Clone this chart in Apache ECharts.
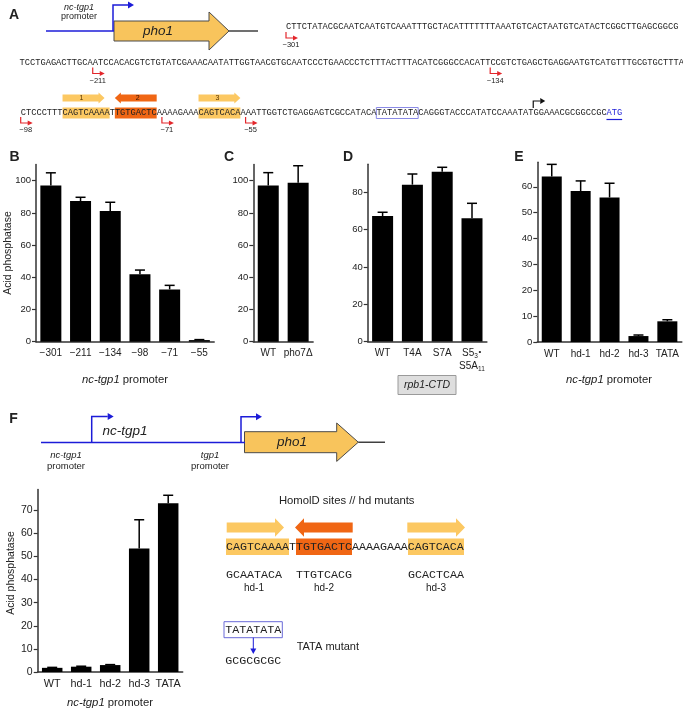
<!DOCTYPE html>
<html><head><meta charset="utf-8">
<script src="https://cdn.jsdelivr.net/npm/echarts@6.0.0/dist/echarts.min.js"></script>
<style>html,body{margin:0;padding:0;background:#fff}#c{width:683px;height:711px}</style>
</head><body><div id="c"></div>
<script>
// ---------------- data ----------------
const bCats = ['\u2212301', '\u2212211', '\u2212134', '\u221298', '\u221271', '\u221255'];
const bVals = [97.0, 87.4, 81.2, 41.9, 32.5, 1.0];
const bErr  = [7.9, 2.3, 5.4, 2.6, 2.5, 0.3];
const bTicks = [0, 20, 40, 60, 80, 100];

const cCats = ['WT', 'pho7\u0394'];
const cVals = [97.0, 98.8];
const cErr  = [8.0, 10.5];
const cTicks = [0, 20, 40, 60, 80, 100];

const dCats = ['WT', 'T4A', 'S7A', ''];
const dVals = [67.3, 84.1, 91.0, 66.1];
const dErr  = [2.0, 5.7, 2.4, 8.0];
const dTicks = [0, 20, 40, 60, 80];

const eCats = ['WT', 'hd-1', 'hd-2', 'hd-3', 'TATA'];
const eVals = [64.0, 58.4, 55.9, 2.3, 8.0];
const eErr  = [4.7, 3.9, 5.5, 0.4, 0.6];
const eTicks = [0, 10, 20, 30, 40, 50, 60];

const fCats = ['WT', 'hd-1', 'hd-2', 'hd-3', 'TATA'];
const fVals = [1.8, 2.3, 3.0, 53.5, 73.0];
const fErr  = [0.2, 0.2, 0.2, 12.4, 3.5];
const fTicks = [0, 10, 20, 30, 40, 50, 60, 70];

const seq1 = 'CTTCTATACGCAATCAATGTCAAATTTGCTACATTTTTTTAAATGTCACTAATGTCATACTCGGCTTGAGCGGCG';
const seq2 = 'TCCTGAGACTTGCAATCCACACGTCTGTATCGAAACAATATTGGTAACGTGCAATCCCTGAACCCTCTTTACTTTACATCGGGCCACATTCCGTCTGAGCTGAGGAATGTCATGTTTGCGTGCTTTA';
const seq3 = 'CTCCCTTTCAGTCAAAATTGTGACTCAAAAGAAACAGTCACAAAATTGGTCTGAGGAGTCGCCATACATATATATACAGGGTACCCATATCCAAATATGGAAACGCGGCCGC';
const seq3End = 'ATG';
const homolSeq = 'CAGTCAAAATTGTGACTCAAAAGAAACAGTCACA';
const mutSeqs = ['GCAATACA', 'TTGTCACG', 'GCACTCAA'];
const mutNames = ['hd-1', 'hd-2', 'hd-3'];

// ---------------- styles ----------------
const SANS = "'Liberation Sans', Arial, sans-serif";
const MONO = "'Liberation Mono', 'DejaVu Sans Mono', monospace";
const AX = '#333';
const BLUE = '#1c1cd8';
const RED = '#e3262b';
const LIGHT = '#fcc862';
const DARK = '#f06614';

const G = [];
function txt(x, y, text, font, opt) {
  opt = opt || {};
  G.push({type: 'text', x: x, y: y, rotation: opt.rot || 0, silent: true, z: 10,
    style: {text: text, font: font, fill: opt.fill || '#222', align: opt.align || 'center',
      verticalAlign: opt.va || 'middle', rich: opt.rich}});
}
function line(pts, color, w) {
  G.push({type: 'polyline', silent: true, z: 9, shape: {points: pts},
    style: {stroke: color, lineWidth: w || 1, fill: null}});
}
function poly(pts, fill, stroke, w) {
  G.push({type: 'polygon', silent: true, z: 8, shape: {points: pts},
    style: {fill: fill, stroke: stroke || null, lineWidth: w || 1}});
}
function rect(x, y, w, h, fill, stroke, lw) {
  G.push({type: 'rect', silent: true, z: 7, shape: {x: x, y: y, width: w, height: h},
    style: {fill: fill || null, stroke: stroke || null, lineWidth: lw || 1}});
}
function geneArrow(x0, xb, xt, c, bh, hh) {
  poly([[x0, c - bh], [xb, c - bh], [xb, c - hh], [xt, c], [xb, c + hh], [xb, c + bh], [x0, c + bh]],
    '#f8c45c', '#4a4a4a', 1);
}
function bentArrow(x, yb, yt, len, color, w, hl, hw) {
  line([[x, yb], [x, yt], [x + len, yt]], color, w);
  poly([[x + len, yt - hw], [x + len + hl, yt], [x + len, yt + hw]], color);
}
function blockArrow(xa, xb, c, bh, hh, hl, dir, fill) {
  if (dir > 0) poly([[xa, c - bh], [xb - hl, c - bh], [xb - hl, c - hh], [xb, c], [xb - hl, c + hh], [xb - hl, c + bh], [xa, c + bh]], fill);
  else poly([[xb, c - bh], [xa + hl, c - bh], [xa + hl, c - hh], [xa, c], [xa + hl, c + hh], [xa + hl, c + bh], [xb, c + bh]], fill);
}
function redMark(x, y0, label) {
  line([[x, y0], [x, y0 + 6], [x + 8, y0 + 6]], RED, 1.2);
  poly([[x + 7, y0 + 3.5], [x + 12, y0 + 6], [x + 7, y0 + 8.5]], RED);
  txt(x + 5, y0 + 13, label, '7.5px ' + SANS);
}

// ---------------- panel A ----------------
txt(14, 15, 'A', 'bold 14px ' + SANS);
txt(79, 7, 'nc-tgp1', 'italic 9px ' + SANS);
txt(79, 17, 'promoter', '9px ' + SANS);
line([[46, 31], [114, 31]], BLUE, 1.5);
bentArrow(113, 31, 5, 15, BLUE, 1.5, 6, 3.5);
geneArrow(114, 209, 229, 31, 10, 19);
txt(158, 31, 'pho1', 'italic 13.5px ' + SANS);
line([[229, 31], [258, 31]], '#111', 1.2);

const CW = 5.23, FS = 8.72;
const MF = FS + 'px ' + MONO;
txt(286, 27, seq1, MF, {align: 'left'});
redMark(286, 32, '\u2212301');
const x2 = 19.5;
txt(x2, 62.5, seq2, MF, {align: 'left'});
redMark(x2 + 14 * CW, 67.5, '\u2212211');
redMark(x2 + 90 * CW, 67.5, '\u2212134');

const x3 = 20.7, y3 = 113;
const cx3 = i => x3 + i * CW;
rect(cx3(8), y3 - 5.5, 9 * CW, 11, LIGHT);
rect(cx3(18), y3 - 5.5, 8 * CW, 11, DARK);
rect(cx3(34), y3 - 5.5, 8 * CW, 11, LIGHT);
rect(cx3(68), y3 - 5.5, 8 * CW, 11, null, '#8a8ae6', 1);
txt(x3, y3, seq3, MF, {align: 'left'});
txt(cx3(112), y3, seq3End, MF, {align: 'left', fill: BLUE});
line([[cx3(112), y3 + 6.5], [cx3(115), y3 + 6.5]], BLUE, 1.2);
blockArrow(cx3(8), cx3(8) + 42, 98, 3.6, 5.6, 6, 1, LIGHT);
blockArrow(cx3(18), cx3(26), 98, 3.6, 5.6, 6, -1, DARK);
blockArrow(cx3(34), cx3(42), 98, 3.6, 5.6, 6, 1, LIGHT);
txt(cx3(8) + 19, 98, '1', '7px ' + SANS, {fill: '#553300'});
txt(cx3(22) + 2, 98, '2', '7px ' + SANS, {fill: '#331100'});
txt(cx3(38) - 2, 98, '3', '7px ' + SANS, {fill: '#553300'});
redMark(cx3(0), 117, '\u221298');
redMark(cx3(27), 117, '\u221271');
redMark(cx3(43), 117, '\u221255');
bentArrow(cx3(98), 108, 101, 7, '#111', 1.2, 5, 3);

// ---------------- panel letters / titles B-E ----------------
txt(14.5, 157, 'B', 'bold 14px ' + SANS);
txt(229, 157, 'C', 'bold 14px ' + SANS);
txt(348, 157, 'D', 'bold 14px ' + SANS);
txt(519, 157, 'E', 'bold 14px ' + SANS);
txt(8, 253, 'Acid phosphatase', '10.5px ' + SANS, {rot: Math.PI / 2});
const promRich = {i: {fontStyle: 'italic', fontSize: 11.3, fontFamily: SANS, fill: '#222'}, r: {fontSize: 11.3, fontFamily: SANS, fill: '#222'}};
txt(125, 380, '{i|nc-tgp1}{r| promoter}', '11.3px ' + SANS, {rich: promRich});
txt(609, 380, '{i|nc-tgp1}{r| promoter}', '11.3px ' + SANS, {rich: promRich});
rect(398, 375.5, 58, 19, '#dedede', '#9a9a9a', 1);
txt(427, 385, 'rpb1-CTD', 'italic 10.5px ' + SANS);
txt(462, 353, 'S5', '10px ' + SANS, {align: 'left'});
txt(474.3, 356, '3', '6.5px ' + SANS, {align: 'left'});
txt(478.5, 352, '\u2022', '8px ' + SANS, {align: 'left'});
txt(459, 366, 'S5A', '10px ' + SANS, {align: 'left'});
txt(478, 369, '11', '6.5px ' + SANS, {align: 'left'});

// ---------------- panel F diagram ----------------
txt(13.5, 419, 'F', 'bold 14px ' + SANS);
line([[41, 442.5], [245, 442.5]], BLUE, 1.5);
bentArrow(91.7, 442.5, 416.5, 16, BLUE, 1.5, 6, 3.5);
txt(125, 431.5, 'nc-tgp1', 'italic 13.5px ' + SANS);
txt(66, 455, 'nc-tgp1', 'italic 9.5px ' + SANS);
txt(66, 466, 'promoter', '9.5px ' + SANS);
txt(210, 455, 'tgp1', 'italic 9.5px ' + SANS);
txt(210, 466, 'promoter', '9.5px ' + SANS);
bentArrow(241, 442.5, 416.7, 15, BLUE, 1.5, 6, 3.5);
geneArrow(244.5, 336.7, 358.3, 442.2, 10.5, 19.2);
txt(292, 442, 'pho1', 'italic 13.5px ' + SANS);
line([[358.3, 442.2], [385, 442.2]], '#111', 1.2);

txt(346.7, 500.7, 'HomolD sites // hd mutants', '11.3px ' + SANS);
const hx = 226, hcw = 7.0, hy = 547;
const hc = i => hx + i * hcw;
const MF2 = '11.67px ' + MONO;
rect(hc(0), 538.5, 9 * hcw, 16.5, LIGHT);
rect(hc(10), 538.5, 8 * hcw, 16.5, DARK);
rect(hc(26), 538.5, 8 * hcw, 16.5, LIGHT);
txt(hx, hy, homolSeq, MF2, {align: 'left'});
blockArrow(226.7, 284, 527.5, 5, 9.2, 9, 1, LIGHT);
blockArrow(295, 352.7, 527.5, 5, 9.2, 9, -1, DARK);
blockArrow(407.3, 465, 527.5, 5, 9.2, 9, 1, LIGHT);
const mutX = [254, 324, 436];
mutSeqs.forEach((s, i) => {
  txt(mutX[i], 575, s, MF2);
  txt(mutX[i], 588, mutNames[i], '10px ' + SANS);
});
rect(224, 621.7, 58.3, 16, null, '#6a6ad8', 1);
txt(253.2, 629.8, 'TATATATA', MF2);
line([[253.3, 637.7], [253.3, 649]], BLUE, 1);
poly([[250.3, 648.5], [253.3, 654], [256.3, 648.5]], BLUE);
txt(253.3, 661, 'GCGCGCGC', MF2);
txt(296.7, 646.7, 'TATA mutant', '11px ' + SANS, {align: 'left'});

txt(11, 573, 'Acid phosphatase', '10.5px ' + SANS, {rot: Math.PI / 2});
txt(110, 702.5, '{i|nc-tgp1}{r| promoter}', '11.3px ' + SANS, {rich: promRich});

// ---------------- charts ----------------
const grids = [
  {left: 36, top: 164.6, width: 178.2, height: 177.1},
  {left: 253.3, top: 164.6, width: 59.8, height: 177.1},
  {left: 367.7, top: 164.3, width: 119.2, height: 177.3},
  {left: 537.3, top: 162.3, width: 144.5, height: 179.7},
  {left: 37.7, top: 489.5, width: 145, height: 182.5}
];
const panels = [
  {cats: bCats, vals: bVals, err: bErr, ticks: bTicks, max: 110, bw: 21, fs: 10, tfs: 9.5},
  {cats: cCats, vals: cVals, err: cErr, ticks: cTicks, max: 110, bw: 21, fs: 10, tfs: 9.5},
  {cats: dCats, vals: dVals, err: dErr, ticks: dTicks, max: 95, bw: 21, fs: 10, tfs: 9.5},
  {cats: eCats, vals: eVals, err: eErr, ticks: eTicks, max: 69.5, bw: 20, fs: 10, tfs: 9.5},
  {cats: fCats, vals: fVals, err: fErr, ticks: fTicks, max: 79, bw: 20.5, fs: 10.8, tfs: 10.5}
];
const xAxes = [], yAxes = [], series = [];
panels.forEach((p, k) => {
  xAxes.push({type: 'category', gridIndex: k, data: p.cats, boundaryGap: true,
    axisLine: {lineStyle: {color: AX, width: 1.5}}, axisTick: {show: false},
    axisLabel: {color: '#222', fontSize: p.fs, fontFamily: SANS, margin: 7, interval: 0}});
  yAxes.push({type: 'value', gridIndex: k, min: 0, max: p.max,
    axisLine: {show: true, lineStyle: {color: AX, width: 1.5}},
    axisTick: {show: true, length: 4, lineStyle: {color: AX, width: 1.2}, customValues: p.ticks},
    axisLabel: {color: '#222', fontSize: p.tfs, fontFamily: SANS, margin: 5, customValues: p.ticks},
    splitLine: {show: false}});
  series.push({type: 'bar', xAxisIndex: k, yAxisIndex: k, data: p.vals, barWidth: p.bw,
    itemStyle: {color: '#000'}, silent: true, animation: false});
  series.push({type: 'custom', xAxisIndex: k, yAxisIndex: k, silent: true, animation: false, z: 5,
    data: p.cats.map((c, i) => [i, p.vals[i], p.err[i]]),
    renderItem: function (params, api) {
      const a = api.coord([api.value(0), api.value(1)]);
      const b = api.coord([api.value(0), api.value(1) + api.value(2)]);
      const st = {stroke: '#000', lineWidth: 1.5};
      return {type: 'group', children: [
        {type: 'line', shape: {x1: a[0], y1: a[1], x2: b[0], y2: b[1]}, style: st},
        {type: 'line', shape: {x1: b[0] - 5, y1: b[1], x2: b[0] + 5, y2: b[1]}, style: st}
      ]};
    }});
});

const chart = echarts.init(document.getElementById('c'), null, {renderer: 'canvas'});
chart.setOption({
  animation: false,
  backgroundColor: '#fff',
  grid: grids.map(g => Object.assign({containLabel: false, outerBoundsMode: 'none'}, g)),
  xAxis: xAxes,
  yAxis: yAxes,
  series: series,
  graphic: {elements: G}
});
</script>
</body></html>
